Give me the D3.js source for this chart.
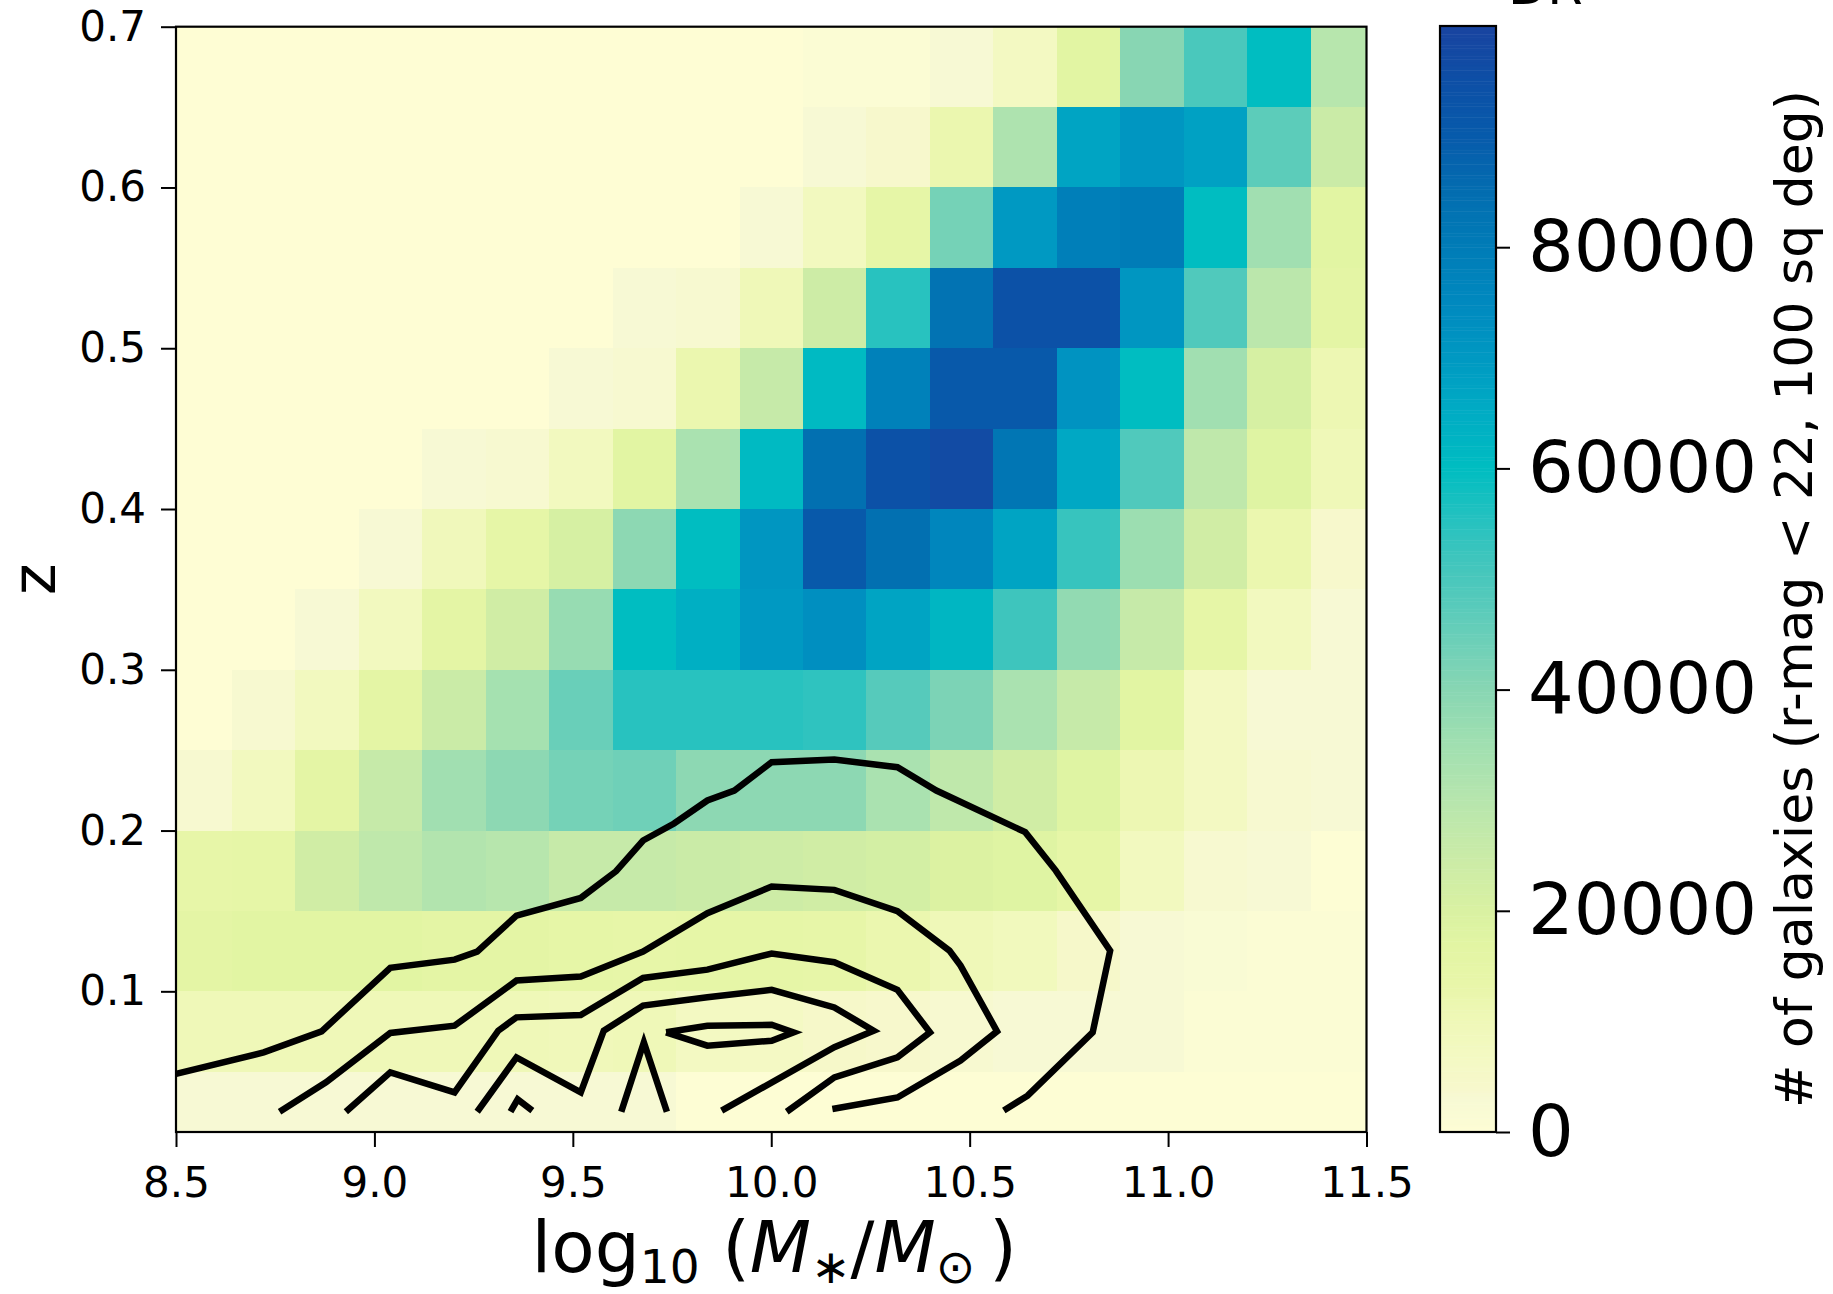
<!DOCTYPE html>
<html>
<head>
<meta charset="utf-8">
<script src="https://cdn.jsdelivr.net/npm/d3@7"></script>
<style>
body { margin: 0; background: #fff; }
svg { display: block; font-family: 'DejaVu Sans', sans-serif; }
</style>
</head>
<body>
<div id="chart"></div>
<script>
// bin edges (stellar mass, redshift)
const massEdges = [8.5, 8.64, 8.80, 8.96, 9.12, 9.28, 9.44, 9.60, 9.76, 9.92, 10.08,
    10.24, 10.40, 10.56, 10.72, 10.88, 11.04, 11.20, 11.36, 11.5];
const zEdges = [0.0125, 0.05, 0.10, 0.15, 0.20, 0.25, 0.30, 0.35, 0.40, 0.45, 0.50, 0.55, 0.60, 0.65, 0.70];

// galaxy counts per cell, one row per z bin (low z first), one column per mass bin
const counts = [
    [3000, 3000, 3000, 3000, 3000, 3000, 3000, 3000, 500, 500, 500, 500, 500, 500, 500, 500, 500, 500, 500],
    [10000, 10000, 10000, 10000, 10000, 10000, 9500, 10000, 7000, 6500, 5000, 4000, 3500, 3000, 3000, 3000, 1000, 1000, 1000],
    [16000, 17000, 17000, 17000, 16000, 16000, 15000, 14000, 15000, 15000, 14000, 12000, 10000, 8500, 4500, 3000, 2000, 1000, 1000],
    [14000, 15000, 23000, 28000, 31000, 30000, 26000, 26000, 25000, 24000, 23000, 22000, 19000, 18000, 15000, 8000, 3500, 3000, 500],
    [3500, 8000, 16000, 26000, 35000, 39000, 43000, 44000, 39000, 39000, 39000, 33000, 28000, 23000, 18000, 11000, 7000, 3500, 3000],
    [0, 3500, 8000, 16000, 25000, 34000, 45000, 55000, 55000, 55000, 54000, 48000, 42000, 33000, 26000, 17000, 7000, 3000, 3000],
    [0, 0, 3000, 8000, 16000, 23000, 37000, 60000, 64000, 70000, 73000, 67000, 62000, 52000, 38000, 26000, 15000, 8000, 3000],
    [0, 0, 0, 3000, 9000, 15000, 21000, 39000, 60000, 71000, 91000, 84000, 76000, 67000, 53000, 36000, 23000, 12000, 4000],
    [0, 0, 0, 0, 3000, 3500, 8000, 17000, 33000, 61000, 84000, 94000, 97000, 82000, 66000, 49000, 28000, 18000, 10000],
    [0, 0, 0, 0, 0, 0, 3000, 3500, 12000, 26000, 61000, 78000, 91000, 91000, 72000, 60000, 35000, 21000, 11000],
    [0, 0, 0, 0, 0, 0, 0, 3000, 3500, 10000, 24000, 55000, 83000, 94000, 94000, 71000, 49000, 29000, 16000],
    [0, 0, 0, 0, 0, 0, 0, 0, 0, 3000, 8000, 15000, 43000, 70000, 79000, 80000, 60000, 35000, 17000],
    [0, 0, 0, 0, 0, 0, 0, 0, 0, 0, 3000, 4000, 12000, 32000, 67000, 71000, 68000, 47000, 25000],
    [0, 0, 0, 0, 0, 0, 0, 0, 0, 0, 1000, 1000, 3000, 7000, 17000, 40000, 50000, 60000, 30000]
];

// contour lines [log10 M, z]
const contourOuter = [[8.50, 0.0486], [8.721, 0.062], [8.867, 0.0751], [9.040, 0.1146], [9.202, 0.1197],
    [9.259, 0.1247], [9.358, 0.1471], [9.520, 0.1581], [9.609, 0.1747], [9.677, 0.1938], [9.755, 0.2044],
    [9.839, 0.2187], [9.907, 0.2249], [10.001, 0.2425], [10.159, 0.2442], [10.318, 0.2394], [10.416, 0.2249],
    [10.640, 0.199], [10.717, 0.1751], [10.854, 0.1253], [10.810, 0.0745], [10.646, 0.0351], [10.586, 0.0258]];
const contourSecond = [[8.761, 0.0251], [8.878, 0.0434], [9.040, 0.0741], [9.202, 0.0786], [9.358, 0.1067],
    [9.520, 0.1092], [9.677, 0.1247], [9.839, 0.1486], [10.001, 0.1652], [10.159, 0.1631], [10.318, 0.1498],
    [10.449, 0.1253], [10.477, 0.116], [10.569, 0.0751], [10.477, 0.0569], [10.318, 0.034], [10.154, 0.0268]];
const contourThird = [[8.928, 0.0251], [9.040, 0.0496], [9.202, 0.0371], [9.312, 0.0755], [9.358, 0.0838],
    [9.520, 0.0853], [9.677, 0.1083], [9.839, 0.1135], [10.001, 0.1235], [10.159, 0.1181], [10.318, 0.1009],
    [10.400, 0.0745], [10.318, 0.0589], [10.159, 0.0465], [10.039, 0.0251]];
const contourFourth = [[9.259, 0.0251], [9.358, 0.0589], [9.520, 0.0371], [9.578, 0.0755], [9.677, 0.0911],
    [9.839, 0.0963], [10.001, 0.1009], [10.159, 0.09], [10.258, 0.0755], [10.159, 0.0652], [9.875, 0.0258]];
const contourSmall = [[9.343, 0.0251], [9.361, 0.0328], [9.398, 0.0258]];
const contourSpike = [[9.622, 0.0251], [9.679, 0.0683], [9.737, 0.0251]];
const contourCore = [[9.735, 0.0745], [9.839, 0.0786], [10.001, 0.0792], [10.056, 0.0745], [10.001, 0.0693],
    [9.839, 0.0662], [9.735, 0.0745]];

// ticks
const massTicks = [8.5, 9.0, 9.5, 10.0, 10.5, 11.0, 11.5];
const zTicks = [0.1, 0.2, 0.3, 0.4, 0.5, 0.6, 0.7];
const countTicks = [0, 20000, 40000, 60000, 80000];

// colour map samples
const cmapValues = [0, 1000, 3000, 4000, 7000, 10000, 13000, 17000, 20000, 24000, 28000, 32000, 36000,
    40000, 44000, 48000, 52000, 56000, 60000, 65000, 70000, 75000, 80000, 85000, 90000, 95000, 100000];
const cmapColors = ['#fefdd4', '#fbfcd4', '#f7f9d4', '#f7f8cc', '#f3f9c2', '#eff8b8', '#e9f6aa', '#e2f5a3',
    '#d9f1a2', '#cdeca6', '#bfe8ab', '#aee3af', '#9cdeb1', '#88d6b3', '#6fd0b8', '#56cabb', '#3ec5bd',
    '#20c1c0', '#00bdc1', '#00acc4', '#0099c2', '#0089bf', '#007cb7', '#036db0', '#075bab', '#0d4fa6', '#1944a0'];

const width = 1833, height = 1294;
const plot = { left: 176, right: 1366.5, top: 26.7, bottom: 1132 };
const bar = { left: 1440, right: 1496, top: 26, bottom: 1132 };

const svg = d3.select('#chart')
    .append('svg')
    .attr('width', width)
    .attr('height', height);

const x = d3.scaleLinear().domain([8.5, 11.5]).range([plot.left, plot.right]);
const y = d3.scaleLinear().domain([0.0125, 0.7]).range([plot.bottom, plot.top]);
const color = d3.scaleLinear().domain(cmapValues).range(cmapColors).clamp(true);

// Flatten the grid into cells
const cells = [];
counts.forEach((row, i) => {
    row.forEach((n, j) => {
        cells.push({ m0: massEdges[j], m1: massEdges[j + 1], z0: zEdges[i], z1: zEdges[i + 1], n });
    });
});

svg.append('g')
    .selectAll('rect')
    .data(cells)
    .join('rect')
    .attr('x', d => x(d.m0))
    .attr('y', d => y(d.z1))
    .attr('width', d => x(d.m1) - x(d.m0))
    .attr('height', d => y(d.z0) - y(d.z1))
    .attr('fill', d => color(d.n))
    .attr('shape-rendering', 'crispEdges');

// Contours
const line = d3.line().x(d => x(d[0])).y(d => y(d[1]));
svg.append('g')
    .selectAll('path')
    .data([contourOuter, contourSecond, contourThird, contourFourth, contourSmall, contourSpike, contourCore])
    .join('path')
    .attr('d', line)
    .attr('fill', 'none')
    .attr('stroke', '#000')
    .attr('stroke-width', 6.5)
    .attr('stroke-linejoin', 'miter')
    .attr('stroke-miterlimit', 4);

// Axes
const xAxis = svg.append('g')
    .attr('transform', `translate(0,${plot.bottom})`)
    .call(d3.axisBottom(x).tickValues(massTicks).tickFormat(d3.format('.1f')).tickSize(15).tickPadding(20));
const yAxis = svg.append('g')
    .attr('transform', `translate(${plot.left},0)`)
    .call(d3.axisLeft(y).tickValues(zTicks).tickFormat(d3.format('.1f')).tickSize(15).tickPadding(15));
[xAxis, yAxis].forEach(g => {
    g.select('.domain').remove();
    g.attr('font-family', 'DejaVu Sans').attr('font-size', 42);
    g.selectAll('.tick line').attr('stroke', '#000').attr('stroke-width', 2);
    g.selectAll('.tick text').attr('fill', '#000');
});

svg.append('rect')
    .attr('x', plot.left).attr('y', plot.top)
    .attr('width', plot.right - plot.left).attr('height', plot.bottom - plot.top)
    .attr('fill', 'none').attr('stroke', '#000').attr('stroke-width', 2.2);

// Axis labels
const xLabel = svg.append('text')
    .attr('x', (plot.left + plot.right) / 2 + 3)
    .attr('y', 1272)
    .attr('text-anchor', 'middle')
    .attr('font-size', 71);
xLabel.append('tspan').text('log');
xLabel.append('tspan').attr('font-size', 47).attr('dy', 11).text('10');
xLabel.append('tspan').attr('dy', -11).text(' (');
xLabel.append('tspan').attr('font-style', 'italic').text('M');
xLabel.append('tspan').attr('font-size', 47).attr('dy', 11).text('\u2217');
xLabel.append('tspan').attr('dy', -11).text('/');
xLabel.append('tspan').attr('font-style', 'italic').text('M');
xLabel.append('tspan').attr('font-size', 47).attr('dy', 11).text('\u2299');
xLabel.append('tspan').attr('dy', -11).text('\u2009)');

svg.append('text')
    .attr('transform', `translate(55,${(plot.top + plot.bottom) / 2}) rotate(-90)`)
    .attr('text-anchor', 'middle')
    .attr('font-size', 60)
    .text('z');

// Colour bar
const cb = d3.scaleLinear().domain([0, 100000]).range([bar.bottom, bar.top]);
const step = 250;
svg.append('g')
    .selectAll('rect')
    .data(d3.range(0, 100000, step))
    .join('rect')
    .attr('x', bar.left)
    .attr('y', d => cb(d + step))
    .attr('width', bar.right - bar.left)
    .attr('height', d => cb(d) - cb(d + step) + 0.5)
    .attr('fill', d => color(d + step / 2));

svg.append('rect')
    .attr('x', bar.left).attr('y', bar.top)
    .attr('width', bar.right - bar.left).attr('height', bar.bottom - bar.top)
    .attr('fill', 'none').attr('stroke', '#000').attr('stroke-width', 2.2);

const cbAxis = svg.append('g')
    .attr('transform', `translate(${bar.right},0)`)
    .call(d3.axisRight(cb).tickValues(countTicks).tickFormat(d3.format('d')).tickSize(14).tickPadding(18));
cbAxis.select('.domain').remove();
cbAxis.attr('font-family', 'DejaVu Sans').attr('font-size', 72);
cbAxis.selectAll('.tick line').attr('stroke', '#000').attr('stroke-width', 2);
cbAxis.selectAll('.tick text').attr('fill', '#000');

svg.append('text')
    .attr('transform', `translate(1812,${(bar.top + bar.bottom) / 2 + 20}) rotate(-90)`)
    .attr('text-anchor', 'middle')
    .attr('font-size', 52)
    .text('# of galaxies (r-mag < 22, 100 sq deg)');

// title that sits mostly above the canvas
svg.append('text')
    .attr('x', 1508)
    .attr('y', 4)
    .attr('font-size', 51)
    .text('DR');
</script>
</body>
</html>
